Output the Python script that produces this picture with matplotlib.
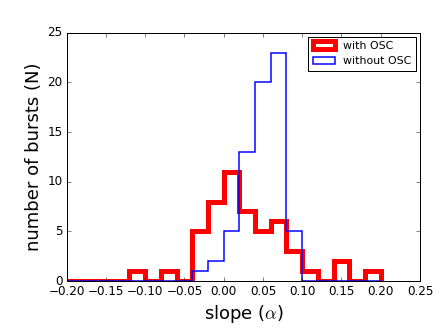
import numpy as np
import matplotlib
matplotlib.use("Agg")
import matplotlib.pyplot as plt

plt.style.use("classic")
plt.rcParams["mathtext.fontset"] = "cm"
plt.rcParams["axes.unicode_minus"] = True

# bin edges of the slope histogram (width 0.02)
edges = np.round(np.arange(-0.20, 0.2001, 0.02), 2)
centers = (edges[:-1] + edges[1:]) / 2

# counts per bin
with_osc = [0, 0, 0, 0, 1, 0, 1, 0, 5, 8, 11, 7, 5, 6, 3, 1, 0, 2, 0, 1]
without_osc = [0, 0, 0, 0, 0, 0, 0, 0, 1, 2, 5, 13, 20, 23, 5, 0, 0, 0, 0, 0]

fig = plt.figure(figsize=(443 / 72, 332 / 72), dpi=72)
ax = fig.add_axes([0.1505, 0.1536, 0.7975, 0.748])

ax.hist(centers, bins=edges, weights=with_osc, histtype="step",
        color="red", linewidth=5, label="with OSC")
ax.hist(centers, bins=edges, weights=without_osc, histtype="step",
        color="blue", linewidth=1.5, label="without OSC")

ax.set_xlim(-0.20, 0.25)
ax.set_ylim(0, 25)
ax.set_xticks(np.arange(-0.20, 0.2501, 0.05))
ax.tick_params(labelsize=12)

ax.set_xlabel(r"slope ($\alpha$)", fontsize=18)
ax.set_ylabel("number of bursts (N)", fontsize=18)

ax.legend(loc="upper right", fontsize=11, borderaxespad=0.35)

fig.savefig("out.png", dpi=72)
